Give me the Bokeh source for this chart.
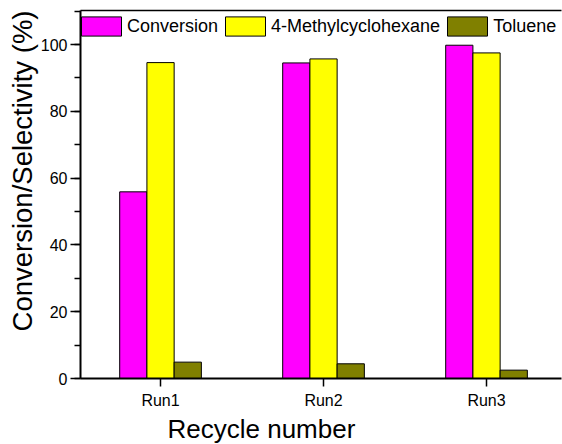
from bokeh.plotting import figure
from bokeh.models import (Range1d, FixedTicker, SingleIntervalTicker, Legend, LegendItem,
                          Title, LinearAxis, ColumnDataSource)
from bokeh.transform import dodge
from bokeh.embed import file_html
from bokeh.resources import INLINE

runs = ["Run1", "Run2", "Run3"]
run_pos = [1, 2, 3]
conversion = [55.9, 94.5, 99.8]
methylcyclohexane = [94.6, 95.7, 97.5]
toluene = [4.9, 4.4, 2.5]

series_names = ["Conversion", "4-Methylcyclohexane", "Toluene"]
series_colors = ["#FF00FF", "#FFFF00", "#808000"]

FONT = "Liberation Sans"

src = ColumnDataSource(dict(x=run_pos, conv=conversion, meth=methylcyclohexane, tol=toluene))

p = figure(width=562, height=444, output_backend="svg", toolbar_location=None,
           x_range=Range1d(0.509, 3.46), y_range=Range1d(0, 110.2),
           min_border_left=80, min_border_right=1, min_border_top=10, min_border_bottom=66)

bw = 0.167
cols = ["conv", "meth", "tol"]
offsets = [-bw, 0, bw]
renderers = []
for c, off, col in zip(cols, offsets, series_colors):
    r = p.vbar(x=dodge("x", off), top=c, width=bw, bottom=0, source=src,
               fill_color=col, line_color="black", line_width=1)
    renderers.append(r)

p.grid.visible = False
p.background_fill_color = "white"
p.border_fill_color = "white"
p.outline_line_color = None

# x axis
xa = p.xaxis[0]
xa.ticker = FixedTicker(ticks=run_pos)
xa.major_label_overrides = {k: v for k, v in zip(run_pos, runs)}
xa.major_label_text_font = FONT
xa.major_label_text_font_size = "16px"
xa.major_label_text_color = "black"
xa.major_tick_out = 8
xa.major_tick_in = 0
xa.minor_tick_out = 0
xa.minor_tick_in = 0
xa.axis_line_width = 2
xa.major_tick_line_width = 1.5
xa.major_label_standoff = 5

# y axis
ya = p.yaxis[0]
ya.ticker = SingleIntervalTicker(interval=20, num_minor_ticks=2)
ya.major_label_text_font = FONT
ya.major_label_text_font_size = "16px"
ya.major_label_text_color = "black"
ya.major_tick_out = 10
ya.major_tick_in = 0
ya.minor_tick_out = 6
ya.minor_tick_in = 0
ya.axis_line_width = 2
ya.major_tick_line_width = 1.5
ya.minor_tick_line_width = 1.5
ya.major_label_standoff = 3

# top border line
top_axis = LinearAxis(ticker=FixedTicker(ticks=[]), major_tick_out=0, major_tick_in=0,
                      minor_tick_out=0, minor_tick_in=0, axis_line_width=1.5)
p.add_layout(top_axis, "above")

# axis titles
yt = Title(text="Conversion/Selectivity (%)", text_font=FONT, text_font_size="27.5px",
           text_font_style="normal", text_color="black", align="right", offset=0, standoff=0)
p.add_layout(yt, "left")
xt = Title(text="Recycle number", text_font=FONT, text_font_size="26px",
           text_font_style="normal", text_color="black", align="left", offset=87, standoff=0)
p.add_layout(xt, "below")

legend = Legend(items=[LegendItem(label=n, renderers=[r]) for n, r in zip(series_names, renderers)],
                orientation="horizontal", location=(-4, 340),
                glyph_width=50, glyph_height=24, label_standoff=1, spacing=2,
                label_text_font=FONT, label_text_font_size="18px", label_text_color="black",
                border_line_color=None, background_fill_alpha=0,
                margin=0, padding=0)
p.add_layout(legend, "center")

open("out.html", "w").write(file_html(p, INLINE))
